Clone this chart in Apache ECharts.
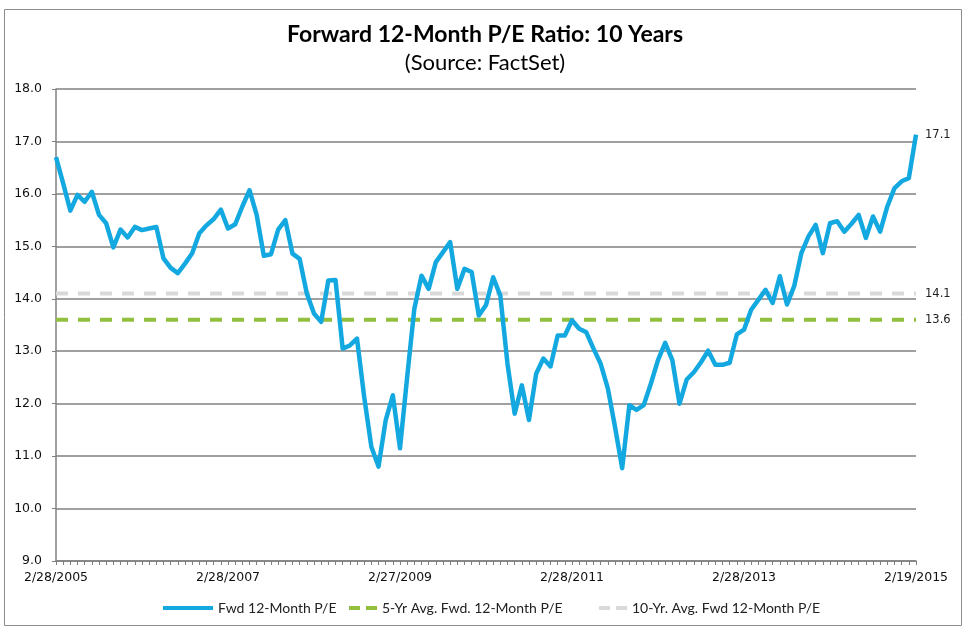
<!DOCTYPE html>
<html>
<head>
<meta charset="utf-8">
<script src="https://cdn.jsdelivr.net/npm/echarts@6/dist/echarts.min.js"></script>
<style>html,body{margin:0;padding:0;background:#fff}#c{width:970px;height:632px}</style>
</head>
<body>
<div id="c"></div>
<script>
// Categories: last business day of each month, 2/2005 .. 1/2015, then 2/19/2015
const categories = (function () {
  const out = [];
  for (let k = 0; k < 120; k++) {
    const y = 2005 + Math.floor((1 + k) / 12);
    const m = (1 + k) % 12; // 0-based month, start Feb 2005
    const d = new Date(Date.UTC(y, m + 1, 0));
    while (d.getUTCDay() === 0 || d.getUTCDay() === 6) d.setUTCDate(d.getUTCDate() - 1);
    out.push((d.getUTCMonth() + 1) + '/' + d.getUTCDate() + '/' + d.getUTCFullYear());
  }
  out.push('2/19/2015');
  return out;
})();

const fwdPE = [
  16.70, 16.20, 15.68, 15.98, 15.85, 16.04, 15.60, 15.44, 14.98, 15.32,
  15.17, 15.37, 15.31, 15.34, 15.37, 14.77, 14.59, 14.49, 14.67, 14.87,
  15.25, 15.40, 15.52, 15.70, 15.34, 15.42, 15.76, 16.07, 15.60, 14.82,
  14.85, 15.32, 15.50, 14.86, 14.76, 14.10, 13.72, 13.56, 14.35, 14.36,
  13.05, 13.11, 13.24, 12.13, 11.18, 10.80, 11.68, 12.16, 11.15, 12.51,
  13.81, 14.44, 14.19, 14.70, 14.89, 15.08, 14.19, 14.57, 14.51, 13.68,
  13.88, 14.41, 14.06, 12.76, 11.81, 12.35, 11.69, 12.57, 12.86, 12.71,
  13.30, 13.30, 13.59, 13.43, 13.36, 13.05, 12.76, 12.29, 11.56, 10.77,
  11.97, 11.88, 11.97, 12.38, 12.83, 13.16, 12.83, 12.00, 12.46, 12.60,
  12.79, 13.01, 12.74, 12.74, 12.78, 13.32, 13.41, 13.79, 13.98, 14.17,
  13.92, 14.43, 13.89, 14.24, 14.87, 15.19, 15.41, 14.87, 15.44, 15.48,
  15.28, 15.43, 15.60, 15.16, 15.57, 15.28, 15.76, 16.11, 16.24, 16.30,
  17.13
];
const avg5 = 13.6;
const avg10 = 14.1;
const avg5Series = categories.map(() => avg5);
const avg10Series = categories.map(() => avg10);

const seriesNames = ['Fwd 12-Month P/E', '5-Yr Avg. Fwd. 12-Month P/E', '10-Yr. Avg. Fwd 12-Month P/E'];
const xLabelIdx = [0, 24, 48, 72, 96, 120];

const chart = echarts.init(document.getElementById('c'), null, {renderer: 'canvas'});
const legendText = {fontFamily: 'Lato', fontSize: 14, color: '#222'};
const endLab = {show: true, distance: 9, fontFamily: 'DejaVu Sans', fontSize: 11.5, color: '#222',
  formatter: p => Number(p.value).toFixed(1)};
const dashIcon = 'path://M0,0h11v4h-11z M17,0h11v4h-11z';

chart.setOption({
  animation: false,
  backgroundColor: '#fff',
  title: [
    {text: 'Forward 12-Month P/E Ratio: 10 Years', left: 'center', top: 18,
     textStyle: {fontFamily: 'Lato', fontWeight: 'bold', fontSize: 23, color: '#000'}},
    {text: '(Source: FactSet)', left: 'center', top: 47,
     textStyle: {fontFamily: 'Lato', fontWeight: 'normal', fontSize: 22, color: '#000'}}
  ],
  graphic: [{type: 'rect', shape: {x: 4.5, y: 9.5, width: 957, height: 616},
    style: {fill: 'none', stroke: '#8c8c8c', lineWidth: 1}, silent: true, z: -1}],
  legend: [
    {data: [{name: seriesNames[0], icon: 'rect'}], left: 158, top: 596, itemWidth: 50, itemHeight: 4,
     textStyle: legendText},
    {data: [{name: seriesNames[1], icon: dashIcon}], left: 344, top: 596, itemWidth: 28, itemHeight: 4,
     textStyle: legendText},
    {data: [{name: seriesNames[2], icon: dashIcon}], left: 594, top: 596, itemWidth: 28, itemHeight: 4,
     textStyle: legendText}
  ],
  grid: {left: 56, right: 54, top: 89, bottom: 71},
  xAxis: {
    type: 'category', data: categories, boundaryGap: false,
    axisLine: {lineStyle: {color: '#808080', width: 1.5}},
    axisTick: {show: true, interval: 0, length: 4, lineStyle: {color: '#808080'}},
    axisLabel: {interval: (i) => xLabelIdx.indexOf(i) >= 0, margin: 10, fontFamily: 'DejaVu Sans',
      fontSize: 12.5, color: '#111', showMinLabel: true, showMaxLabel: true},
    splitLine: {show: false}
  },
  yAxis: {
    type: 'value', min: 9, max: 18, interval: 1,
    axisLine: {show: true, lineStyle: {color: '#808080', width: 1.5}},
    axisTick: {show: true, length: 4, lineStyle: {color: '#808080'}},
    axisLabel: {formatter: v => v.toFixed(1), fontFamily: 'DejaVu Sans', fontSize: 12.5, color: '#111', margin: 14},
    splitLine: {lineStyle: {color: '#808080', width: 1.6}}
  },
  series: [
    {name: seriesNames[2], type: 'line', data: avg10Series, symbol: 'none', z: 2,
     lineStyle: {color: '#d9d9d9', width: 4, type: [12, 10]}, itemStyle: {color: '#d9d9d9'},
     endLabel: endLab},
    {name: seriesNames[1], type: 'line', data: avg5Series, symbol: 'none', z: 3,
     lineStyle: {color: '#92c03e', width: 4, type: [12, 10]}, itemStyle: {color: '#92c03e'},
     endLabel: endLab},
    {name: seriesNames[0], type: 'line', data: fwdPE, symbol: 'none', z: 4,
     lineStyle: {color: '#14a8e0', width: 4.5, join: 'round'}, itemStyle: {color: '#14a8e0'},
     endLabel: endLab}
  ]
});
</script>
</body>
</html>
